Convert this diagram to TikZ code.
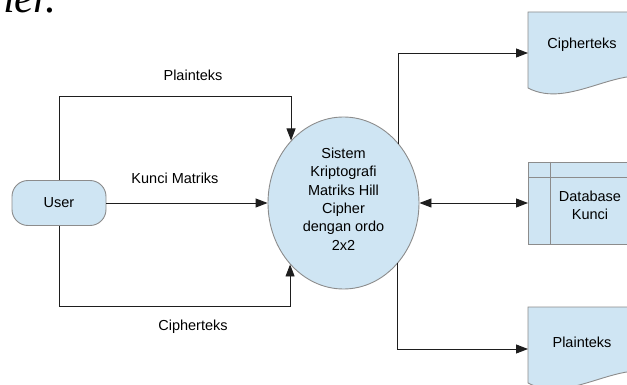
\documentclass[tikz,border=0pt]{standalone}
\usepackage{fontspec}
\setmainfont{Liberation Sans}
\newfontfamily\capfont{Liberation Serif}
\usetikzlibrary{arrows.meta,shapes.geometric}

\definecolor{shapefill}{RGB}{207,229,243}
\definecolor{shapeline}{RGB}{140,140,140}
\definecolor{wire}{RGB}{30,30,30}

\tikzset{
  every node/.style={font=\fontsize{14.5}{18.3}\selectfont},
  shapebox/.style={draw=shapeline, fill=shapefill, line width=0.9pt},
  userbox/.style={shapebox, rectangle, rounded corners=16pt,
    minimum width=94pt, minimum height=45pt, inner sep=0pt},
  procbox/.style={shapebox, ellipse, minimum width=151pt, minimum height=172pt, inner sep=0pt},
  storebox/.style={shapebox, rectangle, minimum width=112pt, minimum height=82pt, inner sep=0pt},
  caption/.style={inner sep=0pt, align=center},
  flow/.style={draw=wire, line width=0.9pt, -{Triangle[length=12pt,width=9pt]}},
  flowboth/.style={draw=wire, line width=0.9pt,
    {Triangle[length=12pt,width=9pt]}-{Triangle[length=12pt,width=9pt]}},
}

\begin{document}
\begin{tikzpicture}[x=1pt,y=-1pt]
\useasboundingbox (0,0) rectangle (627,385);

% tail of the caption line above the figure
\node[anchor=base east, inner sep=0pt, font=\capfont\itshape\fontsize{44}{44}\selectfont]
  (captail) at (57,12.7) {Cipher.};

% external entity
\node[userbox] (user) at (59,203) {User};

% process
\node[procbox] (sys) at (343.5,203) {};
\node[caption] (systext) at (343.5,199)
  {Sistem\\Kriptografi\\Matriks Hill\\Cipher\\dengan ordo\\2x2};

% data store
\node[storebox, anchor=west] (db) at (528,203) {};
\draw[draw=shapeline, line width=0.9pt] (db.north west |- 0,177) -- (db.north east |- 0,177);
\draw[draw=shapeline, line width=0.9pt] (550,0 |- db.north) -- (550,0 |- db.south);
\node[caption] (dbtext) at (590,205) {Database\\Kunci};

% output documents
\draw[shapebox] (528,88) -- (528,12) -- (660,12) -- (660,80)
  .. controls (620,62) and (570,110) .. (528,88) -- cycle;
\node[caption] (ciphdoc) at (582,45) {Cipherteks};
\coordinate (ciphin) at (528,53);

\draw[shapebox] (528,383) -- (528,307) -- (660,307) -- (660,375)
  .. controls (620,357) and (570,405) .. (528,383) -- cycle;
\node[caption] (plaindoc) at (582,342) {Plainteks};
\coordinate (plainin) at (528,349);

% routing levels
\coordinate (toplevel) at (0,96);
\coordinate (botlevel) at (0,306);

% flows from the user into the process
\draw[flow] (user.north) -- (user.north |- toplevel) -| (sys.130.3);
\draw[flow] (user.east) -- (sys.west);
\draw[flow] (user.south) -- (user.south |- botlevel) -| (sys.229.7);

\node[caption] (lblplain) at (193,75) {Plainteks};
\node[caption] (lblkey) at (175,178) {Kunci Matriks};
\node[caption] (lblciph) at (193,327) {Cipherteks};

% flows out of the process
\draw[flow] (sys.47.6) |- (ciphin);
\draw[flow] (sys.312.4) |- (plainin);
\draw[flowboth] (sys.east) -- (sys.east -| db.west);

\end{tikzpicture}
\end{document}
